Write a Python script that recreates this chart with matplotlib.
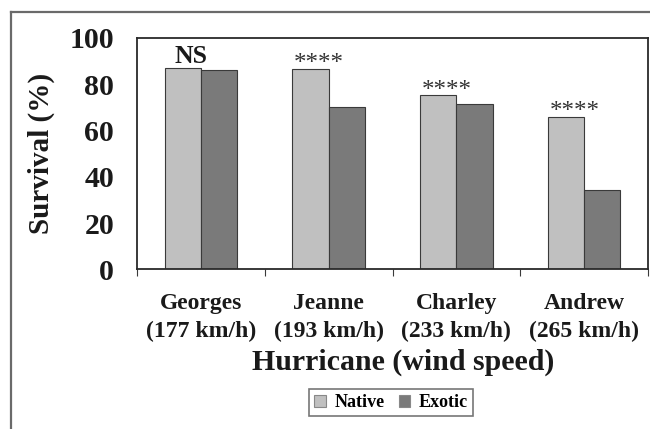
import numpy as np
import matplotlib.pyplot as plt
from matplotlib.lines import Line2D

# Data
hurricanes = ['Georges\n(177 km/h)', 'Jeanne\n(193 km/h)', 'Charley\n(233 km/h)', 'Andrew\n(265 km/h)']
native = [87.2, 86.6, 75.2, 66.0]
exotic = [86.3, 70.3, 71.3, 34.3]
signif = ['NS', '****', '****', '****']

plt.rcParams['font.family'] = ['Liberation Serif', 'DejaVu Serif']
plt.rcParams['font.weight'] = 'bold'

fig = plt.figure(figsize=(6.5, 4.29), dpi=100)
W, H = 650, 429
ax = fig.add_axes([137 / W, 1 - 269.3 / H, 511 / W, 231.3 / H])

x = np.arange(len(hurricanes))
bw = 0.283
edge = '#3a3a3a'
ax.bar(x - bw / 2, native, bw, color='#c0c0c0', edgecolor=edge, linewidth=0.8, label='Native')
ax.bar(x + bw / 2, exotic, bw, color='#7a7a7a', edgecolor=edge, linewidth=0.8, label='Exotic')

# significance marks above native bars
for i, s in enumerate(signif):
    if s == 'NS':
        ax.text(x[i] - bw / 2 + 0.065, native[i] + 2, s, ha='center', va='baseline',
                fontsize=18.5, fontweight='bold', color='#1a1a1a')
    else:
        ax.text(x[i] - bw / 2 + 0.065, native[i] - 0.5, s, ha='center', va='baseline',
                fontsize=18, fontweight='normal', color='#333333')

ax.set_xlim(-0.5, 3.5)
ax.set_ylim(0, 100)
ax.set_yticks([0, 20, 40, 60, 80, 100])
ax.tick_params(axis='y', length=0, pad=16.5, labelsize=21.5, colors='#1a1a1a')

# boundary ticks (no labels) + centred labels
ax.set_xticks([-0.5, 0.5, 1.5, 2.5, 3.5])
ax.set_xticklabels([])
ax.tick_params(axis='x', which='major', length=5, direction='out', color='#3a3a3a')
ax.set_xticks(x, minor=True)
ax.set_xticklabels(hurricanes, minor=True, fontsize=17, fontweight='bold', color='#1a1a1a',
                   linespacing=1.45)
ax.tick_params(axis='x', which='minor', length=0, pad=17)

for sp in ax.spines.values():
    sp.set_visible(True)
    sp.set_color('#2a2a2a')
    sp.set_linewidth(1.3)

ax.set_ylabel('Survival (%)', fontsize=21, fontweight='bold', color='#1a1a1a')
ax.yaxis.set_label_coords((55 - 137) / 511, 0.5)

fig.text(403 / W, 1 - 362 / H, 'Hurricane (wind speed)', ha='center', va='center',
         fontsize=21.5, fontweight='bold', color='#1a1a1a')

leg = fig.legend(loc='center', bbox_to_anchor=(391 / W, 1 - 402.5 / H), ncol=2,
                 fontsize=13, frameon=True, fancybox=False, handlelength=0.65,
                 handleheight=0.65, handletextpad=0.45, columnspacing=0.8, borderpad=0.3)
leg.get_frame().set_edgecolor('#555555')
leg.get_frame().set_linewidth(1.2)
for h in leg.legend_handles:
    h.set_edgecolor('#888888')

# outer frame (left and top edges visible)
fig.add_artist(Line2D([10.5 / W, 10.5 / W], [0, 1 - 12 / H], color='#6a6a6a', linewidth=1.6))
fig.add_artist(Line2D([10.5 / W, 1], [1 - 12 / H, 1 - 12 / H], color='#6a6a6a', linewidth=1.6))

fig.savefig('out.png', dpi=100)
